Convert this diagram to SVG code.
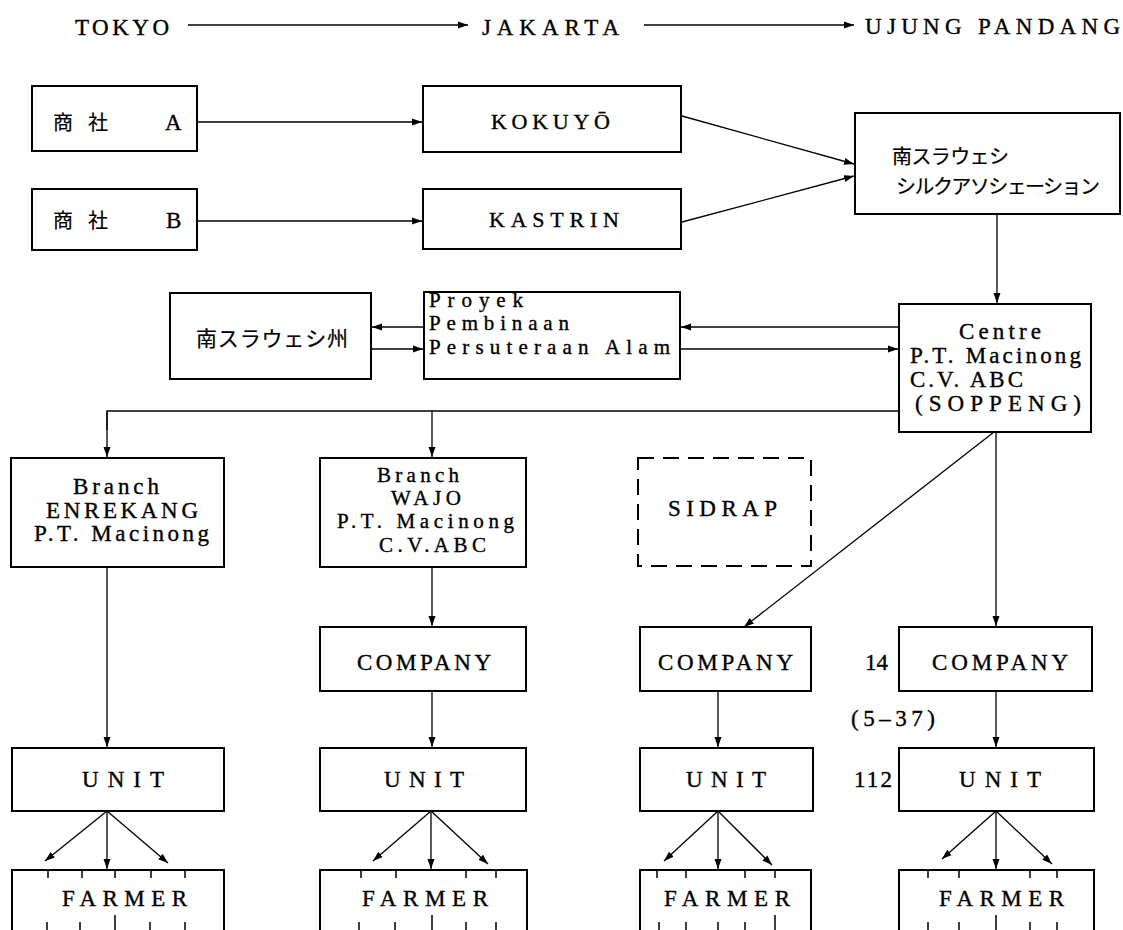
<svg xmlns="http://www.w3.org/2000/svg" width="1123" height="930" viewBox="0 0 1123 930">
<defs>
<marker id="ah" markerUnits="userSpaceOnUse" markerWidth="11" markerHeight="8" refX="10" refY="4" orient="auto">
<path d="M0,0.5 L10,4 L0,7.5 z" fill="#000"/>
</marker>
<style>
.b{fill:#fff;stroke:#000;stroke-width:2}
.d{fill:#fff;stroke:#000;stroke-width:2;stroke-dasharray:16 9}
.c{fill:none;stroke:#000;stroke-width:1.3}
.a{fill:none;stroke:#000;stroke-width:1.3;marker-end:url(#ah)}
.t{fill:#000;stroke:#000;stroke-width:0.35;font-family:"Liberation Serif","Noto Sans CJK JP",serif;font-size:23px}
.h{font-size:23px}
.s{font-size:22px}
.p{font-size:21px}
.w{font-size:21px}
.j{font-family:"Noto Sans CJK JP","Liberation Serif",sans-serif;font-size:20px;stroke-width:0.2}
.tk{fill:none;stroke:#000;stroke-width:1.5}
</style>
</defs>
<rect width="1123" height="930" fill="#fff"/>

<g id="header">
<text class="t h" x="75" y="35" textLength="94">TOKYO</text>
<text class="t h" x="482" y="35" textLength="137">JAKARTA</text>
<text class="t h" x="865" y="34" textLength="255">UJUNG PANDANG</text>
</g>

<g id="connectors">
<line class="a" x1="188" y1="25" x2="468" y2="25"/>
<line class="a" x1="644" y1="25" x2="854" y2="25"/>
<line class="a" x1="197" y1="122" x2="422" y2="122"/>
<line class="a" x1="197" y1="221" x2="422" y2="221"/>
<line class="a" x1="682" y1="116" x2="854" y2="164"/>
<line class="a" x1="682" y1="222" x2="854" y2="176"/>
<line class="a" x1="997" y1="214" x2="997" y2="303"/>
<line class="a" x1="424" y1="327" x2="372" y2="327"/>
<line class="a" x1="371" y1="349" x2="423" y2="349"/>
<line class="a" x1="899" y1="327" x2="681" y2="327"/>
<line class="a" x1="680" y1="349" x2="898" y2="349"/>
<polyline class="c" points="899,411 107,411 107,430"/>
<line class="a" x1="107" y1="411" x2="107" y2="457"/>
<line class="a" x1="432" y1="411" x2="432" y2="457"/>
<line class="a" x1="107" y1="567" x2="107" y2="747"/>
<line class="a" x1="432" y1="567" x2="432" y2="626"/>
<line class="a" x1="432" y1="691" x2="432" y2="747"/>
<line class="a" x1="996" y1="432" x2="996" y2="626"/>
<line class="a" x1="994" y1="432" x2="744" y2="627"/>
<line class="a" x1="718" y1="691" x2="718" y2="747"/>
<line class="a" x1="996" y1="691" x2="996" y2="747"/>
<line class="a" x1="107" y1="811" x2="45" y2="861"/>
<line class="a" x1="107" y1="811" x2="107" y2="869"/>
<line class="a" x1="107" y1="811" x2="168" y2="863"/>
<line class="a" x1="431" y1="811" x2="373" y2="861"/>
<line class="a" x1="431" y1="811" x2="431" y2="869"/>
<line class="a" x1="431" y1="811" x2="488" y2="864"/>
<line class="a" x1="718" y1="811" x2="664" y2="861"/>
<line class="a" x1="718" y1="811" x2="718" y2="869"/>
<line class="a" x1="718" y1="811" x2="772" y2="865"/>
<line class="a" x1="996" y1="811" x2="942" y2="859"/>
<line class="a" x1="996" y1="811" x2="996" y2="869"/>
<line class="a" x1="996" y1="811" x2="1052" y2="864"/>
</g>

<g id="shosha-a">
<rect class="b" x="32" y="86" width="165" height="65"/>
<text class="t j" x="53" y="130">商</text>
<text class="t j" x="88" y="130">社</text>
<text class="t" x="165" y="130">A</text>
</g>
<g id="shosha-b">
<rect class="b" x="32" y="189" width="165" height="61"/>
<text class="t j" x="53" y="228">商</text>
<text class="t j" x="88" y="228">社</text>
<text class="t" x="166" y="228">B</text>
</g>
<g id="kokuyo">
<rect class="b" x="423" y="86" width="258" height="66"/>
<text class="t s" x="491" y="129" textLength="119">KOKUYŌ</text>
</g>
<g id="kastrin">
<rect class="b" x="423" y="189" width="258" height="60"/>
<text class="t s" x="489" y="227" textLength="130">KASTRIN</text>
</g>
<g id="silk-association">
<rect class="b" x="855" y="113" width="265" height="101"/>
<text class="t j" x="892" y="164" textLength="117">南スラウェシ</text>
<text class="t j" x="896" y="194" textLength="204">シルクアソシェーション</text>
</g>
<g id="province">
<rect class="b" x="170" y="293" width="201" height="86"/>
<text class="t j" style="font-size:21px" x="196" y="346" textLength="152">南スラウェシ州</text>
</g>
<g id="proyek">
<rect class="b" x="424" y="292" width="256" height="87"/>
<text class="t p" x="429" y="307" textLength="94">Proyek</text>
<text class="t p" x="429" y="330" textLength="140">Pembinaan</text>
<text class="t p" x="429" y="354" textLength="241">Persuteraan Alam</text>
</g>
<g id="centre">
<rect class="b" x="899" y="304" width="192" height="128"/>
<text class="t" x="959" y="339" textLength="82">Centre</text>
<text class="t" x="910" y="363" textLength="171">P.T. Macinong</text>
<text class="t" x="910" y="387" textLength="113">C.V. ABC</text>
<text class="t" x="915" y="411" textLength="166">(SOPPENG)</text>
</g>
<g id="branch-enrekang">
<rect class="b" x="11" y="458" width="213" height="109"/>
<text class="t" x="73" y="494" textLength="86">Branch</text>
<text class="t" x="46" y="518" textLength="152">ENREKANG</text>
<text class="t" x="34" y="541" textLength="175">P.T. Macinong</text>
</g>
<g id="branch-wajo">
<rect class="b" x="320" y="458" width="206" height="109"/>
<text class="t w" x="377" y="482" textLength="82">Branch</text>
<text class="t w" x="391" y="505" textLength="70">WAJO</text>
<text class="t w" x="337" y="528" textLength="177">P.T. Macinong</text>
<text class="t w" x="379" y="552" textLength="107">C.V.ABC</text>
</g>
<g id="sidrap">
<rect class="d" x="638" y="458" width="173" height="108"/>
<text class="t" x="668" y="516" textLength="109">SIDRAP</text>
</g>
<g id="company-2">
<rect class="b" x="320" y="627" width="206" height="64"/>
<text class="t" x="357" y="670" textLength="134">COMPANY</text>
</g>
<g id="company-3">
<rect class="b" x="640" y="627" width="171" height="64"/>
<text class="t" x="658" y="670" textLength="135">COMPANY</text>
</g>
<g id="company-4">
<rect class="b" x="899" y="627" width="193" height="64"/>
<text class="t" x="932" y="670" textLength="136">COMPANY</text>
</g>
<g id="counts">
<text class="t" x="865" y="670">14</text>
<text class="t" x="851" y="726" textLength="84">(5–37)</text>
<text class="t" x="854" y="787" textLength="38">112</text>
</g>
<g id="unit-1">
<rect class="b" x="12" y="748" width="212" height="63"/>
<text class="t" x="82" y="787" textLength="82">UNIT</text>
</g>
<g id="unit-2">
<rect class="b" x="320" y="748" width="206" height="63"/>
<text class="t" x="384" y="787" textLength="80">UNIT</text>
</g>
<g id="unit-3">
<rect class="b" x="640" y="748" width="173" height="63"/>
<text class="t" x="686" y="787" textLength="80">UNIT</text>
</g>
<g id="unit-4">
<rect class="b" x="899" y="748" width="195" height="63"/>
<text class="t" x="959" y="787" textLength="82">UNIT</text>
</g>
<g id="farmer-1">
<rect class="b" x="12" y="870" width="212" height="80"/>
<path class="tk" d="M48,870v8M82,870v8M115,870v8M151,870v8M185,870v8M47,922v8M80,922v8M115,915v15M150,922v8M185,922v8"/>
<text class="t" x="62" y="906" textLength="125">FARMER</text>
</g>
<g id="farmer-2">
<rect class="b" x="320" y="870" width="207" height="80"/>
<path class="tk" d="M361,870v8M396,870v8M466,870v8M496,870v8M359,922v8M395,922v8M432,915v15M466,922v8M496,922v8"/>
<text class="t" x="362" y="906" textLength="126">FARMER</text>
</g>
<g id="farmer-3">
<rect class="b" x="640" y="870" width="171" height="80"/>
<path class="tk" d="M657,870v8M686,870v8M745,870v8M775,870v8M659,922v8M686,922v8M718,922v8M745,922v8M775,915v15"/>
<text class="t" x="664" y="906" textLength="126">FARMER</text>
</g>
<g id="farmer-4">
<rect class="b" x="899" y="870" width="195" height="80"/>
<path class="tk" d="M928,870v8M959,870v8M1030,870v8M1057,870v8M928,922v8M959,922v8M996,915v15M1030,922v8M1057,922v8"/>
<text class="t" x="939" y="906" textLength="125">FARMER</text>
</g>
</svg>
